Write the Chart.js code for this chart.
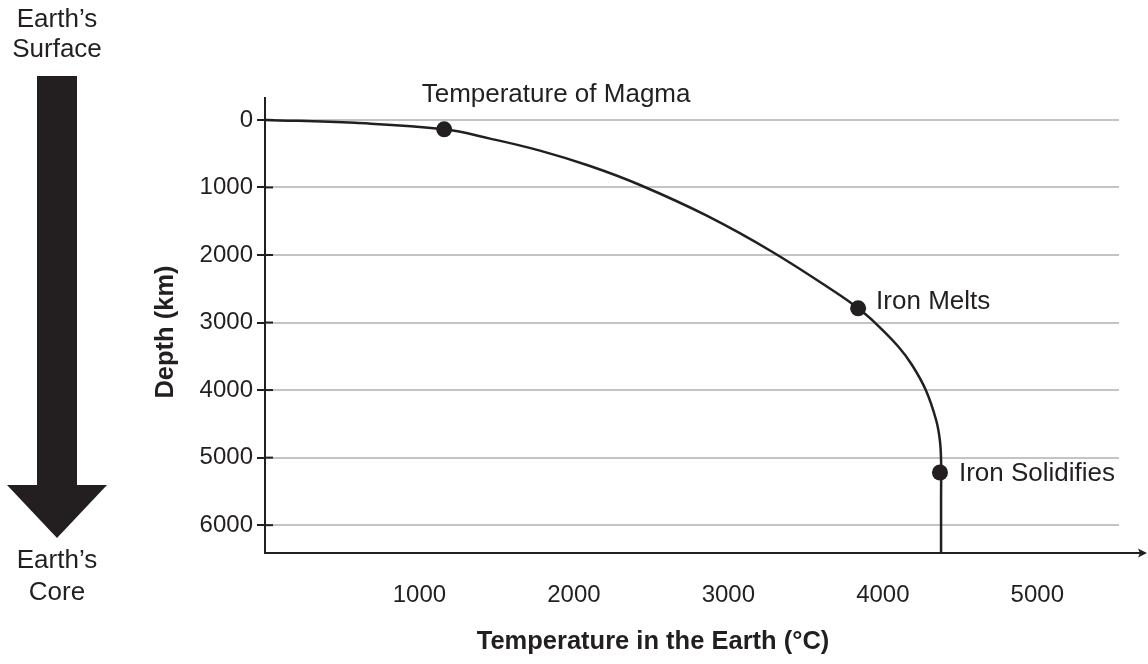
<!DOCTYPE html>
<html><head><meta charset="utf-8">
<script src="https://cdn.jsdelivr.net/npm/chart.js@4"></script>
<style>html,body{margin:0;padding:0;background:#fff}canvas{display:block}</style>
</head><body>
<canvas id="c" width="1148" height="664"></canvas>
<script>
// ---- data ----
const curveTemperatures = [0, 583, 1160, 1457, 1780, 2104, 2428, 2860, 3291, 3723, 3840, 3942, 4101, 4189, 4278, 4345, 4369, 4377, 4377, 4377];
const curveDepths       = [0, 44, 140, 277, 455, 683, 964, 1418, 1963, 2597, 2790, 2988, 3358, 3629, 3999, 4443, 4739, 5034, 5600, 6412];
const pointTemperatures = [1160, 3840, 4370];
const pointDepths       = [140, 2790, 5220];
const pointLabels       = ["Temperature of Magma", "Iron Melts", "Iron Solidifies"];
const xTickValues = [1000, 2000, 3000, 4000, 5000];
const yTickValues = [0, 1000, 2000, 3000, 4000, 5000, 6000];
const xTitle = "Temperature in the Earth (°C)";
const yTitle = "Depth (km)";
const surfaceLabel = ["Earth’s", "Surface"];
const coreLabel = ["Earth’s", "Core"];

// ---- styles / layout ----
const INK = '#231f20';
const FONT = '"Liberation Sans", Arial, Helvetica, sans-serif';
const labelOffsets = [[-22.5, -34.5], [18, -7], [19, 1.6]];

const curve = curveTemperatures.map((t, i) => ({x: t, y: curveDepths[i]}));
const pts = pointTemperatures.map((t, i) => ({x: t, y: pointDepths[i]}));

const decor = {
  id: 'decor',
  afterDraw(chart) {
    const ctx = chart.ctx;
    const ca = chart.chartArea;
    const xs = chart.scales.x, ys = chart.scales.y;
    ctx.save();
    // inner halves of y tick marks
    ctx.strokeStyle = INK; ctx.lineWidth = 2;
    yTickValues.forEach(v => {
      const py = ys.getPixelForValue(v);
      ctx.beginPath(); ctx.moveTo(ca.left, py); ctx.lineTo(ca.left + 8, py); ctx.stroke();
    });
    // x axis extension with arrow
    const by = ca.bottom;
    ctx.beginPath(); ctx.moveTo(ca.right - 2, by); ctx.lineTo(1140, by); ctx.stroke();
    ctx.fillStyle = INK;
    ctx.beginPath(); ctx.moveTo(1147, by); ctx.lineTo(1138, by - 4.5); ctx.lineTo(1140, by); ctx.lineTo(1138, by + 4.5); ctx.closePath(); ctx.fill();
    // point labels
    ctx.fillStyle = INK;
    ctx.font = '26px ' + FONT;
    ctx.textAlign = 'left'; ctx.textBaseline = 'middle';
    pointLabels.forEach((lab, i) => {
      const px = xs.getPixelForValue(pointTemperatures[i]);
      const py = ys.getPixelForValue(pointDepths[i]);
      ctx.fillText(lab, px + labelOffsets[i][0], py + labelOffsets[i][1]);
    });
    // axis titles
    ctx.font = 'bold 25.5px ' + FONT;
    ctx.textAlign = 'center';
    ctx.fillText(xTitle, 653, 642);
    ctx.save();
    ctx.translate(166, 332); ctx.rotate(-Math.PI / 2);
    ctx.fillText(yTitle, 0, 0);
    ctx.restore();
    // side arrow
    ctx.fillStyle = INK;
    ctx.fillRect(37, 76, 40, 410);
    ctx.beginPath(); ctx.moveTo(7, 485); ctx.lineTo(107, 485); ctx.lineTo(57, 538); ctx.closePath(); ctx.fill();
    ctx.font = '26px ' + FONT;
    ctx.textAlign = 'center';
    ctx.fillText(surfaceLabel[0], 57, 20);
    ctx.fillText(surfaceLabel[1], 57, 50);
    ctx.fillText(coreLabel[0], 57, 561);
    ctx.fillText(coreLabel[1], 57, 593);
    ctx.restore();
  }
};

new Chart(document.getElementById('c'), {
  type: 'scatter',
  data: {
    datasets: [
      { data: curve, showLine: true, borderColor: INK, borderWidth: 2.5, pointRadius: 0, tension: 0.4, fill: false },
      { data: pts, showLine: false, pointRadius: 8, backgroundColor: INK, borderColor: INK, borderWidth: 0 }
    ]
  },
  options: {
    responsive: false,
    animation: false,
    events: [],
    layout: { padding: { top: 98, right: 29, left: 0, bottom: 0 } },
    plugins: { legend: { display: false }, tooltip: { enabled: false } },
    scales: {
      x: {
        type: 'linear', min: 0, max: 5529,
        afterFit(s) { s.height = 111; },
        afterBuildTicks(s) { s.ticks = xTickValues.map(v => ({value: v})); },
        grid: { display: false, drawTicks: false },
        border: { display: true, color: INK, width: 2 },
        ticks: { color: INK, font: { family: FONT, size: 24 }, padding: 28, maxRotation: 0, autoSkip: false, callback: v => String(v) }
      },
      y: {
        type: 'linear', reverse: true, min: -324, max: 6412,
        afterFit(s) { s.width = 265; },
        afterBuildTicks(s) { s.ticks = yTickValues.map(v => ({value: v})); },
        grid: { color: '#c4c4c4', lineWidth: 2, drawTicks: true, tickLength: 8, tickColor: INK, tickWidth: 2 },
        border: { display: true, color: INK, width: 2 },
        ticks: { color: INK, font: { family: FONT, size: 24 }, padding: 4, autoSkip: false, callback: v => String(v) }
      }
    }
  },
  plugins: [decor]
});
</script>
</body></html>
